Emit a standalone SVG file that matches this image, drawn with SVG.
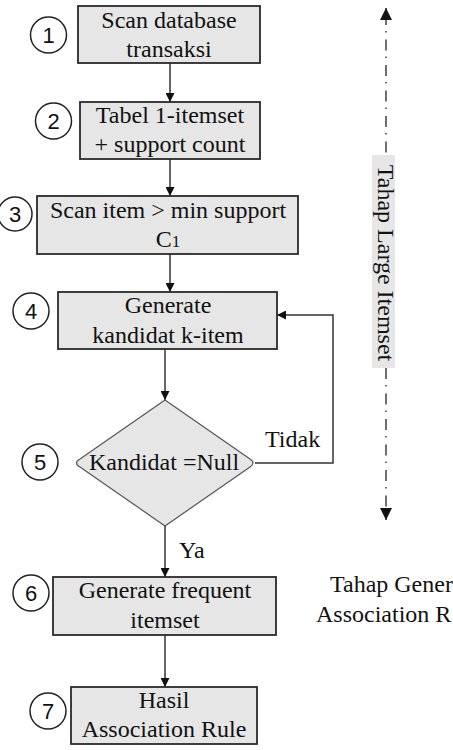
<svg xmlns="http://www.w3.org/2000/svg" width="453" height="750" viewBox="0 0 453 750">
<style>
.box{fill:#e6e6e6;stroke:#2a2a2a;stroke-width:1.8}
.dia{fill:#e6e6e6;stroke:#555;stroke-width:1.2}
.num{fill:#fff;stroke:#222;stroke-width:1.5}
.nt{font-family:"Liberation Sans",Arial,sans-serif;font-size:22px;fill:#111;text-anchor:middle}
.t{font-family:"Liberation Serif","Times New Roman",serif;font-size:24px;fill:#111;text-anchor:middle}
.lbl{font-family:"Liberation Serif","Times New Roman",serif;font-size:24px;fill:#111}
.con{fill:none;stroke:#333;stroke-width:1.5}
.dd{fill:none;stroke:#222;stroke-width:1.3;stroke-dasharray:11 6 1.5 7}
</style>
<defs>
<marker id="ah" viewBox="0 0 10 10" refX="10" refY="5" markerWidth="9" markerHeight="9" markerUnits="userSpaceOnUse" orient="auto">
<path d="M0,0 L10,5 L0,10 z" fill="#111"/>
</marker>
<marker id="ah2" viewBox="0 0 10 10" refX="10" refY="5" markerWidth="12" markerHeight="12" markerUnits="userSpaceOnUse" orient="auto">
<path d="M0,0 L10,5 L0,10 z" fill="#111"/>
</marker>
</defs>

<g id="connectors">
<line class="con" x1="170" y1="63" x2="170" y2="102" marker-end="url(#ah)"/>
<line class="con" x1="170" y1="159" x2="170" y2="196" marker-end="url(#ah)"/>
<line class="con" x1="170" y1="254" x2="170" y2="292" marker-end="url(#ah)"/>
<line class="con" x1="165" y1="349" x2="165" y2="400" marker-end="url(#ah)"/>
<polyline class="con" points="255,463 333,463 333,315 277,315" marker-end="url(#ah)"/>
<line class="con" x1="165" y1="526" x2="165" y2="577" marker-end="url(#ah)"/>
<line class="con" x1="165" y1="635" x2="165" y2="687" marker-end="url(#ah)"/>
<text class="lbl" x="265" y="447">Tidak</text>
<text class="lbl" x="179" y="558">Ya</text>
</g>

<g id="node1">
<rect class="box" x="78" y="6" width="182" height="57"/>
<text class="t" x="169" y="28">Scan database</text>
<text class="t" x="169" y="57">transaksi</text>
<circle class="num" cx="48.5" cy="35" r="18"/>
<text class="nt" x="48.5" y="43">1</text>
</g>

<g id="node2">
<rect class="box" x="80" y="102" width="180" height="57"/>
<text class="t" x="170" y="123">Tabel 1-itemset</text>
<text class="t" x="170" y="152">+ support count</text>
<circle class="num" cx="53.5" cy="121" r="18"/>
<text class="nt" x="53.5" y="129">2</text>
</g>

<g id="node3">
<rect class="box" x="37" y="196" width="261" height="58"/>
<text class="t" x="168" y="218">Scan item &gt; min support</text>
<text class="t" x="168" y="247">C<tspan font-size="17">1</tspan></text>
<circle class="num" cx="15" cy="214" r="17"/>
<text class="nt" x="15" y="222">3</text>
</g>

<g id="node4">
<rect class="box" x="58" y="292" width="219" height="57"/>
<text class="t" x="168" y="313">Generate</text>
<text class="t" x="168" y="343">kandidat k-item</text>
<circle class="num" cx="31" cy="311" r="18"/>
<text class="nt" x="31" y="319">4</text>
</g>

<g id="node5">
<path class="dia" d="M165,400 L250,459 Q256,463 250,467 L165,526 L80,467 Q73,463 80,459 Z"/>
<text class="t" x="164" y="470">Kandidat =Null</text>
<circle class="num" cx="40" cy="462" r="18"/>
<text class="nt" x="40" y="470">5</text>
</g>

<g id="node6">
<rect class="box" x="53" y="577" width="223" height="58"/>
<text class="t" x="165" y="598">Generate frequent</text>
<text class="t" x="165" y="628">itemset</text>
<circle class="num" cx="31" cy="593" r="18"/>
<text class="nt" x="31" y="601">6</text>
</g>

<g id="node7">
<rect class="box" x="71" y="687" width="186" height="57"/>
<text class="t" x="164" y="708">Hasil</text>
<text class="t" x="164" y="737">Association Rule</text>
<circle class="num" cx="48" cy="711" r="18"/>
<text class="nt" x="48" y="719">7</text>
</g>

<g id="stage-large">
<line class="dd" x1="386" y1="14" x2="386" y2="155"/>
<line class="dd" x1="386" y1="368" x2="386" y2="514"/>
<line class="con" x1="386" y1="16" x2="386" y2="8" marker-end="url(#ah2)"/>
<line class="con" x1="386" y1="512" x2="386" y2="520" marker-end="url(#ah2)"/>
<rect x="372" y="155" width="23" height="213" fill="#e6e6e6"/>
<text class="t" transform="translate(378,263) rotate(90)" font-size="25">Tahap Large Itemset</text>
</g>

<g id="stage-generate">
<text class="lbl" x="330" y="592" font-size="23">Tahap Gener</text>
<text class="lbl" x="316" y="622" font-size="23">Association R</text>
</g>
</svg>
